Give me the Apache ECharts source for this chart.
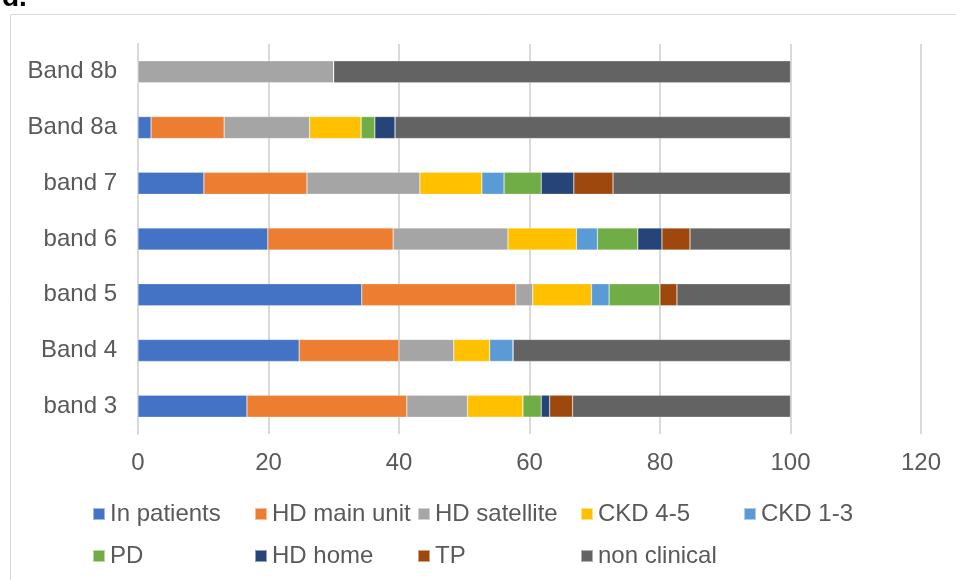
<!DOCTYPE html>
<html>
<head>
<meta charset="utf-8">
<script src="https://cdn.jsdelivr.net/npm/echarts@6/dist/echarts.min.js"></script>
<style>
  html, body { margin: 0; padding: 0; background: #fff; }
  #chart { width: 956px; height: 580px; }
</style>
</head>
<body>
<div id="chart"></div>
<script>
// categories bottom -> top
const bands = ['band 3', 'Band 4', 'band 5', 'band 6', 'band 7', 'Band 8a', 'Band 8b'];

const inPatients  = [16.7, 24.7, 34.3, 19.9, 10.1, 2.0, 0];
const hdMainUnit  = [24.5, 15.3, 23.6, 19.2, 15.8, 11.2, 0];
const hdSatellite = [9.3, 8.4, 2.6, 17.6, 17.3, 13.1, 30.0];
const ckd45       = [8.5, 5.5, 9.0, 10.5, 9.5, 7.9, 0];
const ckd13       = [0, 3.6, 2.7, 3.2, 3.4, 0, 0];
const pd          = [2.8, 0, 7.8, 6.2, 5.7, 2.1, 0];
const hdHome      = [1.3, 0, 0, 3.7, 5.0, 3.1, 0];
const tp          = [3.5, 0, 2.6, 4.3, 6.0, 0, 0];
const nonClinical = [33.4, 42.5, 17.4, 15.4, 27.2, 60.6, 70.0];

const seriesDefs = [
    { name: 'In patients', data: inPatients, color: '#4472C4' },
    { name: 'HD main unit', data: hdMainUnit, color: '#ED7D31' },
    { name: 'HD satellite', data: hdSatellite, color: '#A5A5A5' },
    { name: 'CKD 4-5', data: ckd45, color: '#FFC000' },
    { name: 'CKD 1-3', data: ckd13, color: '#5B9BD5' },
    { name: 'PD', data: pd, color: '#70AD47' },
    { name: 'HD home', data: hdHome, color: '#264478' },
    { name: 'TP', data: tp, color: '#9E480E' },
    { name: 'non clinical', data: nonClinical, color: '#636363' }
];

// legend slots (Excel-like two rows)
const legendPos = [
    [92, 502], [254, 502], [417, 502], [580, 502], [743, 502],
    [92, 544], [254, 544], [417, 544], [580, 544]
];

const font = 'Liberation Sans, Arial, sans-serif';
const textColor = '#595959';

const chart = echarts.init(document.getElementById('chart'));

const option = {
    animation: false,
    title: {
        text: 'd.',
        left: -3,
        top: -21,
        textStyle: { fontFamily: font, fontSize: 28, fontWeight: 'bold', color: '#000' }
    },
    graphic: [{
        type: 'rect',
        shape: { x: 10.5, y: 14.5, width: 1000, height: 1000 },
        style: { fill: 'none', stroke: '#d9d9d9', lineWidth: 1 },
        silent: true
    }],
    legend: seriesDefs.map((s, i) => ({
        data: [s.name],
        left: legendPos[i][0],
        top: legendPos[i][1],
        itemWidth: 12,
        itemHeight: 12,
        itemGap: 0,
        padding: 0,
        icon: 'rect',
        textStyle: { fontFamily: font, fontSize: 24, color: textColor }
    })),
    grid: {
        left: 138,
        right: 35,
        top: 44,
        bottom: 146
    },
    xAxis: {
        type: 'value',
        min: 0,
        max: 120,
        interval: 20,
        axisLine: { show: false },
        axisTick: { show: false },
        splitLine: { lineStyle: { color: '#d9d9d9', width: 2 } },
        axisLabel: { fontFamily: font, fontSize: 24, color: textColor, margin: 17 }
    },
    yAxis: {
        type: 'category',
        data: bands,
        axisLine: { show: true, lineStyle: { color: '#d9d9d9', width: 2 } },
        axisTick: { show: false },
        axisLabel: { fontFamily: font, fontSize: 24, color: textColor, margin: 21 }
    },
    series: seriesDefs.map(s => ({
        name: s.name,
        type: 'bar',
        stack: 'total',
        barWidth: 22,
        data: s.data,
        itemStyle: { color: s.color, borderColor: 'rgba(255,255,255,0.5)', borderWidth: 0.5 }
    }))
};

chart.setOption(option);
</script>
</body>
</html>
